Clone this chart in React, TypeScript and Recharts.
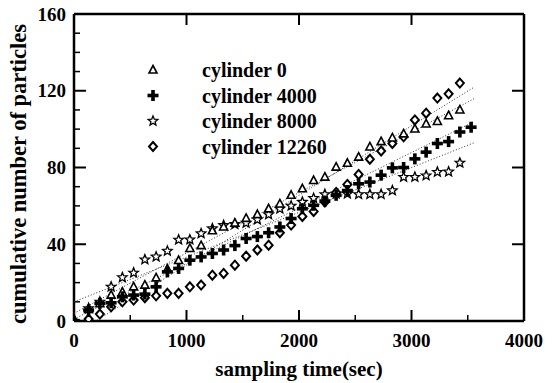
import { Legend, Scatter, ScatterChart, XAxis, YAxis } from 'recharts';

// sampling times (sec) shared by every series
const times = [
  0, 130, 230, 330, 430, 530, 630, 730, 830, 930, 1030, 1130, 1230, 1330, 1430, 1530, 1630, 1730,
  1830, 1930, 2030, 2130, 2230, 2330, 2430, 2530, 2630, 2730, 2830, 2930, 3030, 3130, 3230, 3330,
  3430, 3530,
];

const cyl0 = [
  0, 6, 9, 13.5, 15, 17.8, 18.7, 22.5, 27, 31.5, 37.8, 39.3, 47, 49, 51, 53.5, 55.5, 58.5, 61, 65.5,
  68.9, 73.2, 75, 80.2, 82.2, 85.4, 90.7, 93.5, 95.4, 97.5, 100.1, 102.7, 104, 107, 110,
];
const cyl4000 = [
  0, 5.7, 9.2, 9.5, 12.6, 13.5, 14, 17.8, 25.6, 27.4, 31.7, 33.4, 35.2, 37, 39.3, 43, 44, 46, 49,
  53.4, 58.5, 60.3, 62.5, 65.5, 68, 71.5, 72.4, 76, 79.8, 80, 84.5, 88, 92.5, 93.5, 98.5, 101,
];
const cyl8000 = [
  0, 6.6, 10, 17.8, 22.7, 25.1, 32, 33.5, 36.5, 42.3, 42.4, 45.6, 48.2, 49.9, 50.4, 51.1, 52.8,
  55.5, 58.5, 60, 62, 64, 66, 66.3, 66.3, 66, 66, 66, 68, 75, 75, 75.8, 77.6, 77.8, 82.4,
];
const cyl12260 = [
  0, 1, 3.6, 7.4, 10, 10.9, 12.1, 13.1, 14.4, 14.4, 17.8, 18.7, 23.9, 24.8, 29.1, 33.8, 37, 39.5,
  46, 50, 54.5, 57.1, 62, 67, 71.2, 76.4, 84.3, 88.6, 92.5, 96, 104.8, 108.3, 116.2, 118.4, 124,
];

// dotted fit lines: start / end values at fitTimes
const fitTimes = [0, 3560];
const fit0 = [4, 116];
const fit4000 = [1, 104];
const fit8000 = [10, 93];
const fit12260 = [-7, 122];

const xTicks = [0, 1000, 2000, 3000, 4000];
const xMinor = [500, 1500, 2500, 3500];
const xMajor = [1000, 2000, 3000];
const yTicks = [0, 40, 80, 120, 160];
const yMajor = [40, 80, 120];
const yMinor = [10, 20, 30, 50, 60, 70, 90, 100, 110, 130, 140, 150];

const FONT = "'Liberation Serif', 'Times New Roman', serif";

const zip = (ts: number[], vs: number[]) =>
  vs.map((v, i) => ({ t: ts[i], v })).filter((p) => p.t !== undefined);

const Triangle = ({ cx, cy }: any) => (
  <path
    d={`M${cx},${cy - 4.5}L${cx + 4},${cy + 3}L${cx - 4},${cy + 3}Z`}
    fill="#fff"
    stroke="#000"
    strokeWidth={1.6}
  />
);

const Plus = ({ cx, cy }: any) => (
  <g fill="#000">
    <rect x={cx - 5.5} y={cy - 1.8} width={11} height={3.6} />
    <rect x={cx - 1.8} y={cy - 5.5} width={3.6} height={11} />
  </g>
);

const Star = ({ cx, cy }: any) => {
  const pts: string[] = [];
  for (let i = 0; i < 10; i++) {
    const r = i % 2 === 0 ? 5 : 2.2;
    const a = -Math.PI / 2 + (i * Math.PI) / 5;
    pts.push(`${cx + r * Math.cos(a)},${cy + r * Math.sin(a)}`);
  }
  return <polygon points={pts.join(' ')} fill="#fff" stroke="#000" strokeWidth={1.3} />;
};

const Diamond = ({ cx, cy }: any) => (
  <path
    d={`M${cx},${cy - 4.5}L${cx + 4},${cy}L${cx},${cy + 4.5}L${cx - 4},${cy}Z`}
    fill="#fff"
    stroke="#000"
    strokeWidth={2}
  />
);

const NoDot = () => <g />;
const NoTick = () => <g />;

const legendRows = [
  { name: 'cylinder 0', Shape: Triangle },
  { name: 'cylinder 4000', Shape: Plus },
  { name: 'cylinder 8000', Shape: Star },
  { name: 'cylinder 12260', Shape: Diamond },
];

const LegendBox = () => (
  <svg width={220} height={112}>
    {legendRows.map(({ name, Shape }, i) => (
      <g key={name}>
        <Shape cx={10} cy={12 + i * 25.5} />
        <text
          x={59}
          y={12 + i * 25.5}
          dy="0.35em"
          fontFamily={FONT}
          fontWeight="bold"
          fontSize={20}
          fill="#000"
        >
          {name}
        </text>
      </g>
    ))}
  </svg>
);

const YTitle = () => (
  <text
    transform="translate(18,174) rotate(-90)"
    textAnchor="middle"
    dominantBaseline="central"
    fontFamily={FONT}
    fontWeight="bold"
    fontSize={22.5}
    fill="#000"
  >
    cumulative number of particles
  </text>
);

const fitLine = { stroke: '#333', strokeWidth: 1, strokeDasharray: '1 2' };
const axisStroke = { stroke: '#000', strokeWidth: 2.5 };

export default function App() {
  const tickStyle = { fontFamily: FONT, fontWeight: 'bold' as const, fontSize: 19, fill: '#000' };
  const titleStyle = { fontFamily: FONT, fontWeight: 'bold' as const, fontSize: 21, fill: '#000' };
  return (
    <div style={{ position: 'absolute', left: 0, top: 0, background: '#fff' }}>
      <ScatterChart width={553} height={383} margin={{ top: 14, right: 29, bottom: 0, left: 0 }}>
        <XAxis
          xAxisId="x"
          type="number"
          dataKey="t"
          domain={[0, 4000]}
          ticks={xTicks}
          allowDataOverflow
          interval={0}
          tickLine={false}
          tickSize={0}
          tickMargin={13}
          axisLine={axisStroke}
          tick={tickStyle}
          height={62}
          label={{ value: 'sampling time(sec)', position: 'insideBottom', offset: 7, style: titleStyle }}
        />
        <XAxis xAxisId="xb1" type="number" dataKey="t" domain={[0, 4000]} ticks={xMajor} interval={0}
          allowDataOverflow mirror height={1} axisLine={false} tick={NoTick} tickSize={11}
          tickLine={{ stroke: '#000', strokeWidth: 2 }} />
        <XAxis xAxisId="xb2" type="number" dataKey="t" domain={[0, 4000]} ticks={xMinor} interval={0}
          allowDataOverflow mirror height={1} axisLine={false} tick={NoTick} tickSize={5}
          tickLine={{ stroke: '#000', strokeWidth: 1.5 }} />
        <XAxis xAxisId="xt" orientation="top" type="number" dataKey="t" domain={[0, 4000]} ticks={xMajor}
          interval={0} allowDataOverflow mirror height={1} axisLine={axisStroke}
          tick={NoTick} tickSize={11} tickLine={{ stroke: '#000', strokeWidth: 2 }} />
        <YAxis
          yAxisId="y"
          type="number"
          dataKey="v"
          domain={[0, 160]}
          ticks={yTicks}
          allowDataOverflow
          interval={0}
          tickLine={false}
          tickSize={0}
          tickMargin={8}
          axisLine={axisStroke}
          tick={tickStyle}
          width={74}
          label={{ content: YTitle }}
        />
        <YAxis yAxisId="yl1" type="number" dataKey="v" domain={[0, 160]} ticks={yMajor} interval={0}
          allowDataOverflow mirror width={1} axisLine={false} tick={NoTick} tickSize={12}
          tickLine={{ stroke: '#000', strokeWidth: 2 }} />
        <YAxis yAxisId="yl2" type="number" dataKey="v" domain={[0, 160]} ticks={yMinor} interval={0}
          allowDataOverflow mirror width={1} axisLine={false} tick={NoTick} tickSize={5}
          tickLine={{ stroke: '#000', strokeWidth: 1.5 }} />
        <YAxis yAxisId="yr" orientation="right" type="number" dataKey="v" domain={[0, 160]} ticks={yMajor}
          interval={0} allowDataOverflow mirror width={1} axisLine={axisStroke}
          tick={NoTick} tickSize={12} tickLine={{ stroke: '#000', strokeWidth: 2 }} />

        <Legend
          layout="vertical"
          align="center"
          verticalAlign="middle"
          content={LegendBox}
          wrapperStyle={{ left: 143, top: 58, width: 220, height: 112 }}
        />

        <Scatter xAxisId="x" yAxisId="y" data={zip(fitTimes, fit12260)} line={fitLine} shape={NoDot} isAnimationActive={false} legendType="none" />
        <Scatter xAxisId="x" yAxisId="y" data={zip(fitTimes, fit0)} line={fitLine} shape={NoDot} isAnimationActive={false} legendType="none" />
        <Scatter xAxisId="x" yAxisId="y" data={zip(fitTimes, fit4000)} line={fitLine} shape={NoDot} isAnimationActive={false} legendType="none" />
        <Scatter xAxisId="x" yAxisId="y" data={zip(fitTimes, fit8000)} line={fitLine} shape={NoDot} isAnimationActive={false} legendType="none" />

        <Scatter name="cylinder 8000" xAxisId="x" yAxisId="y" data={zip(times, cyl8000)} shape={Star} isAnimationActive={false} />
        <Scatter name="cylinder 12260" xAxisId="x" yAxisId="y" data={zip(times, cyl12260)} shape={Diamond} isAnimationActive={false} />
        <Scatter name="cylinder 0" xAxisId="x" yAxisId="y" data={zip(times, cyl0)} shape={Triangle} isAnimationActive={false} />
        <Scatter name="cylinder 4000" xAxisId="x" yAxisId="y" data={zip(times, cyl4000)} shape={Plus} isAnimationActive={false} />
      </ScatterChart>
    </div>
  );
}
